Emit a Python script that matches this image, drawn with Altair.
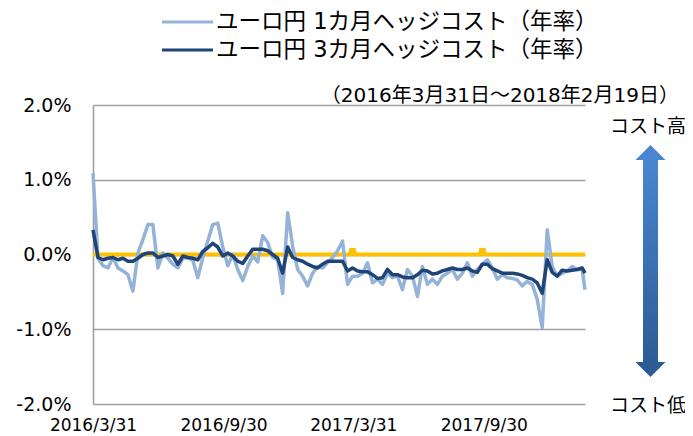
import altair as alt
import pandas as pd

# ---------------- data ----------------
start_date = "2016-03-31"
end_date = "2018-02-19"
# weekly observation dates plus the final date
obs_dates = list(pd.date_range(start_date, periods=99, freq="7D").strftime("%Y-%m-%d")) + [end_date]

series_names = ["ユーロ円 1カ月ヘッジコスト（年率）", "ユーロ円 3カ月ヘッジコスト（年率）"]

hedge_1m = [
    1.09, -0.05, -0.15, -0.18, -0.04, -0.18, -0.22, -0.27, -0.49, 0.02,
    0.20, 0.40, 0.40, -0.18, 0.02, -0.05, -0.13, -0.18, -0.05, -0.04,
    -0.08, -0.31, -0.04, 0.18, 0.40, 0.42, 0.10, -0.15, 0.00, -0.20,
    -0.35, -0.16, -0.02, -0.10, 0.25, 0.16, -0.04, -0.07, -0.52, 0.56,
    0.11, -0.20, -0.29, -0.42, -0.25, -0.16, -0.18, -0.11, -0.04, 0.05,
    0.18, -0.40, -0.29, -0.29, -0.25, -0.11, -0.38, -0.33, -0.40, -0.25,
    -0.31, -0.29, -0.47, -0.20, -0.29, -0.56, -0.16, -0.40, -0.33, -0.40,
    -0.29, -0.25, -0.20, -0.33, -0.25, -0.11, -0.29, -0.20, -0.13, -0.07,
    -0.18, -0.33, -0.27, -0.31, -0.32, -0.34, -0.42, -0.36, -0.40, -0.60,
    -0.98, 0.33, -0.16, -0.29, -0.25, -0.22, -0.16, -0.20, -0.20, -0.47,
]
hedge_3m = [
    0.33, -0.04, -0.07, -0.05, -0.04, -0.07, -0.05, -0.09, -0.09, -0.05,
    0.00, 0.02, 0.02, -0.04, -0.02, 0.00, -0.02, -0.13, -0.02, -0.04,
    -0.05, -0.07, 0.04, 0.09, 0.15, 0.10, -0.02, 0.02, -0.02, -0.09,
    -0.12, -0.02, 0.07, 0.07, 0.07, 0.05, 0.00, -0.05, -0.25, 0.10,
    -0.04, -0.07, -0.09, -0.13, -0.16, -0.18, -0.13, -0.09, -0.09, -0.09,
    -0.09, -0.22, -0.18, -0.22, -0.23, -0.23, -0.27, -0.32, -0.31, -0.20,
    -0.27, -0.27, -0.30, -0.31, -0.31, -0.27, -0.21, -0.22, -0.26, -0.25,
    -0.22, -0.20, -0.18, -0.20, -0.20, -0.18, -0.22, -0.24, -0.13, -0.13,
    -0.19, -0.22, -0.25, -0.25, -0.25, -0.26, -0.28, -0.31, -0.33, -0.38,
    -0.52, -0.07, -0.24, -0.29, -0.21, -0.22, -0.21, -0.20, -0.18, -0.25,
]

zero_dates = ["2016-03-31", "2017-03-27", "2017-03-28", "2017-04-01", "2017-04-02",
              "2017-09-25", "2017-09-26", "2017-09-30", "2017-10-01", "2018-02-19"]
zero_values = [0, 0, 0.06, 0.06, 0, 0, 0.06, 0.06, 0, 0]

y_ticks = [-2, -1, 0, 1, 2]
x_tick_dates = [(2016, 3, 31), (2016, 9, 30), (2017, 3, 31), (2017, 9, 30)]

period_text = "（2016年3月31日～2018年2月19日）"
high_text = "コスト高"
low_text = "コスト低"

light_blue = "#95B3D7"
dark_blue = "#1F4478"
orange = "#FFC000"
grid_gray = "#A0A0A0"

JP_FONT = "'DejaVu Sans', 'Noto Sans CJK JP'"

# ---------------- frames ----------------
df = pd.DataFrame({
    "date": obs_dates * 2,
    "value": hedge_1m + hedge_3m,
    "series": [series_names[0]] * len(obs_dates) + [series_names[1]] * len(obs_dates),
})
zero_df = pd.DataFrame({"date": zero_dates, "value": zero_values})

x_enc = alt.X(
    "date:T",
    scale=alt.Scale(type="utc", domain=[alt.DateTime(year=2016, month=3, date=31, utc=True),
                                        alt.DateTime(year=2018, month=2, date=19, utc=True)], nice=False),
    axis=alt.Axis(
        values=[alt.DateTime(year=y, month=m, date=d, utc=True) for (y, m, d) in x_tick_dates],
        format="%Y/%-m/%-d", domain=False, ticks=False, grid=False, labelFlush=False,
        labelPadding=13, labelFontSize=17, labelFont="DejaVu Sans", labelColor="#000",
        labelAlign="center", title=None,
    ),
)
y_enc = alt.Y(
    "value:Q",
    scale=alt.Scale(domain=[-2, 2], nice=False),
    axis=alt.Axis(
        values=y_ticks, grid=True, gridColor=grid_gray, gridWidth=1.4,
        domain=True, domainColor=grid_gray, domainWidth=1.6, ticks=False,
        labelPadding=22, labelFontSize=19, labelFont="DejaVu Sans", labelColor="#000",
        labelExpr="(datum.value < 0 ? '-' : '') + format(abs(datum.value), '.1f') + '%'",
        title=None,
    ),
)
color_enc = alt.Color("series:N", scale=alt.Scale(domain=series_names, range=[light_blue, dark_blue]), legend=None)

zero_line = alt.Chart(zero_df).mark_line(color=orange, strokeWidth=4).encode(x=x_enc, y=y_enc)

line_1m = alt.Chart(df).transform_filter(alt.datum.series == series_names[0]).mark_line(
    strokeWidth=3.5, strokeJoin="round").encode(x=x_enc, y=y_enc, color=color_enc)
line_3m = alt.Chart(df).transform_filter(alt.datum.series == series_names[1]).mark_line(
    strokeWidth=3.5, strokeJoin="round").encode(x=x_enc, y=y_enc, color=color_enc)

# ---------------- legend (manual) ----------------
legend_layers = []
for i, (name, col) in enumerate(zip(series_names, [light_blue, dark_blue])):
    ypos = -83 + 28 * i
    ldf = pd.DataFrame({"label": [name]})
    legend_layers.append(
        alt.Chart(ldf).mark_rule(color=col, strokeWidth=3).encode(
            x=alt.value(69), x2=alt.value(120), y=alt.value(ypos))
    )
    legend_layers.append(
        alt.Chart(ldf).mark_text(align="left", baseline="middle", fontSize=22.5, font=JP_FONT,
                                 color="#000").encode(
            x=alt.value(123), y=alt.value(ypos), text="label:N")
    )

period = alt.Chart(pd.DataFrame({"t": [period_text]})).mark_text(
    align="right", baseline="middle", fontSize=20, font=JP_FONT, color="#000").encode(
    x=alt.value(586), y=alt.value(-9), text="t:N")

high = alt.Chart(pd.DataFrame({"t": [high_text]})).mark_text(
    align="center", baseline="middle", fontSize=19, font=JP_FONT, color="#000").encode(
    x=alt.value(555), y=alt.value(22), text="t:N")
low = alt.Chart(pd.DataFrame({"t": [low_text]})).mark_text(
    align="center", baseline="middle", fontSize=19, font=JP_FONT, color="#000").encode(
    x=alt.value(555), y=alt.value(301), text="t:N")

one = pd.DataFrame({"a": [0]})
gradient = {
    "gradient": "linear", "x1": 0, "y1": 0, "x2": 0, "y2": 1,
    "stops": [{"offset": 0, "color": "#4A86CF"}, {"offset": 1, "color": "#2D5B96"}],
}
shaft = alt.Chart(one).mark_rect(fill=gradient).encode(
    x=alt.value(550), x2=alt.value(565), y=alt.value(54), y2=alt.value(258))
head_up = alt.Chart(one).mark_point(shape="M-1,0.5L0,-0.5L1,0.5Z", filled=True, size=900,
                                    color="#4A86CF", opacity=1, strokeWidth=0).encode(
    x=alt.value(557.5), y=alt.value(47.5))
head_down = alt.Chart(one).mark_point(shape="M-1,-0.5L0,0.5L1,-0.5Z", filled=True, size=900,
                                      color="#2D5B96", opacity=1, strokeWidth=0).encode(
    x=alt.value(557.5), y=alt.value(264.5))

chart = alt.layer(
    zero_line, line_1m, line_3m, *legend_layers, period, high, low, shaft, head_up, head_down
).properties(
    width=492, height=299,
    autosize=alt.AutoSizeParams(type="none"),
    padding={"left": 85, "top": 97, "right": 100, "bottom": 30},
).configure_view(stroke=None)

chart.save("out.html", embed_options={"renderer": "svg", "actions": False})
